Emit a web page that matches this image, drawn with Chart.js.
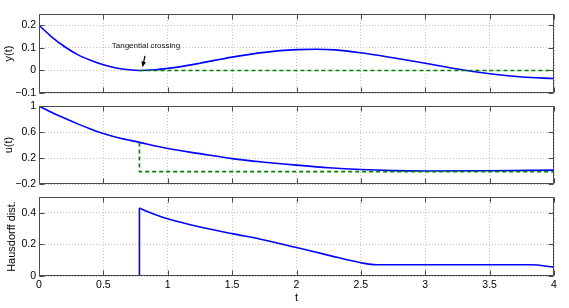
<!DOCTYPE html>
<html><head><meta charset="utf-8">
<script src="https://cdn.jsdelivr.net/npm/chart.js@4/dist/chart.umd.min.js"></script>
<style>
html,body{margin:0;padding:0;background:#fff;}
#wrap{position:relative;width:569px;height:308px;}
canvas{position:absolute;left:0;top:0;}
</style></head><body>
<div id="wrap">
<canvas id="c1" width="569" height="308"></canvas>
<canvas id="c2" width="569" height="308"></canvas>
<canvas id="c3" width="569" height="308"></canvas>
</div>
<script>
// ---- tick labels ----
const xTicks = [0, 0.5, 1, 1.5, 2, 2.5, 3, 3.5, 4];
const yTicks1 = [-0.1, 0, 0.1, 0.2];
const yTicks2 = [-0.2, 0.2, 0.6, 1];
const yTicks3 = [0, 0.2, 0.4];

// ---- panel 1: y(t) ----
const tY    = [0, 0.1, 0.2, 0.3, 0.4, 0.5, 0.6, 0.7, 0.78, 0.9, 1.0, 1.1, 1.25, 1.5, 1.75, 2.0, 2.15, 2.3, 2.5, 2.75, 3.0, 3.25, 3.5, 3.75, 4.0];
const yBlue = [0.2, 0.148, 0.105, 0.07, 0.045, 0.025, 0.011, 0.003, 0.0, 0.003, 0.009, 0.017, 0.032, 0.059, 0.08, 0.092, 0.094, 0.091, 0.078, 0.056, 0.032, 0.006, -0.015, -0.029, -0.036];
const tYref = [0.78, 4];
const yRef  = [0, 0];

// ---- panel 2: u(t) ----
const tU    = [0, 0.1, 0.2, 0.3, 0.4, 0.5, 0.6, 0.78, 1.0, 1.25, 1.5, 1.75, 2.0, 2.25, 2.5, 2.75, 3.0, 3.5, 4.0];
const uBlue = [1.0, 0.9, 0.81, 0.725, 0.648, 0.578, 0.52, 0.44, 0.345, 0.267, 0.19, 0.135, 0.09, 0.05, 0.022, 0.006, 0.0, 0.005, 0.013];
const tUref = [0.78, 0.78, 4];
const uRef  = [0.44, -0.01, -0.01];

// ---- panel 3: Hausdorff distance ----
const tH0   = [0, 0.78, 0.78];
const hZero = [0, 0, 0.43];
const tH    = [0.78, 0.85, 0.95, 1.1, 1.25, 1.5, 1.74, 2.0, 2.26, 2.5, 2.62, 3.82, 4.0];
const hDist = [0.43, 0.405, 0.375, 0.34, 0.31, 0.268, 0.23, 0.18, 0.129, 0.084, 0.071, 0.071, 0.056];

// ---- annotation ----
const noteText = 'Tangential crossing';
const noteAt   = [0.831, 0.109];
const arrowFrom = [0.823, 0.064];
const arrowTo   = [0.804, 0.014];

const FONT = "'Liberation Sans', Arial, Helvetica, sans-serif";
const BLUE = '#0000ff', GREEN = '#008000';
const fmt = v => (v < 0 ? '\u2212' : '') + String(Math.abs(Math.round(v * 1000) / 1000));
const pts = (xs, ys) => xs.map((x, i) => ({x, y: ys[i]}));

const framePlugin = {
  id: 'frame',
  afterDraw(chart) {
    const {ctx, chartArea: a, scales: {x, y}} = chart;
    const L = Math.round(a.left) + 0.5, R = Math.round(a.right) - 0.5;
    const T = Math.round(a.top) + 0.5, B = Math.round(a.bottom) - 0.5;
    ctx.save();
    ctx.strokeStyle = '#4a4a4a';
    ctx.lineWidth = 1;
    ctx.beginPath();
    ctx.rect(L, T, R - L, B - T);
    x.ticks.forEach(t => {
      const p = Math.round(x.getPixelForValue(t.value)) + 0.5;
      ctx.moveTo(p, B); ctx.lineTo(p, B - 5);
      ctx.moveTo(p, T); ctx.lineTo(p, T + 5);
    });
    y.ticks.forEach(t => {
      const p = Math.round(y.getPixelForValue(t.value)) + 0.5;
      ctx.moveTo(L, p); ctx.lineTo(L + 5, p);
      ctx.moveTo(R, p); ctx.lineTo(R - 5, p);
    });
    ctx.stroke();
    ctx.restore();
  }
};

const notePlugin = {
  id: 'note',
  afterDraw(chart) {
    if (chart.canvas.id !== 'c1') return;
    const {ctx, scales: {x, y}} = chart;
    ctx.save();
    ctx.fillStyle = '#111';
    ctx.font = '8px ' + FONT;
    ctx.textAlign = 'center';
    ctx.textBaseline = 'middle';
    ctx.fillText(noteText, x.getPixelForValue(noteAt[0]), y.getPixelForValue(noteAt[1]));
    const x1 = x.getPixelForValue(arrowFrom[0]), y1 = y.getPixelForValue(arrowFrom[1]);
    const x2 = x.getPixelForValue(arrowTo[0]), y2 = y.getPixelForValue(arrowTo[1]);
    const ang = Math.atan2(y2 - y1, x2 - x1);
    ctx.strokeStyle = '#000'; ctx.lineWidth = 1.2;
    ctx.beginPath(); ctx.moveTo(x1, y1);
    ctx.lineTo(x2 - 5 * Math.cos(ang), y2 - 5 * Math.sin(ang)); ctx.stroke();
    ctx.beginPath();
    ctx.moveTo(x2, y2);
    ctx.lineTo(x2 - 6 * Math.cos(ang - 0.4), y2 - 6 * Math.sin(ang - 0.4));
    ctx.lineTo(x2 - 6 * Math.cos(ang + 0.4), y2 - 6 * Math.sin(ang + 0.4));
    ctx.closePath(); ctx.fillStyle = '#000'; ctx.fill();
    ctx.restore();
  }
};

function makeChart(id, datasets, yMin, yMax, yTicks, yTitle, top, bottom, showX, titlePad) {
  return new Chart(document.getElementById(id), {
    type: 'line',
    data: {datasets},
    plugins: [framePlugin, notePlugin],
    options: {
      responsive: false,
      animation: false,
      events: [],
      layout: {padding: {left: 0, right: 15, top: top, bottom: showX ? 0 : 308 - bottom}},
      plugins: {legend: {display: false}, tooltip: {enabled: false}},
      elements: {point: {radius: 0}},
      scales: {
        x: {
          type: 'linear', min: 0, max: 4,
          afterBuildTicks: s => { s.ticks = xTicks.map(v => ({value: v})); },
          afterFit: s => { s.height = showX ? 308 - bottom : 0; },
          grid: {color: '#c4c4c4', lineWidth: 1, drawTicks: false},
          border: {display: false, dash: [1, 2]},
          ticks: {display: showX, padding: 3, color: '#000', font: {family: FONT, size: 10.5},
                  maxRotation: 0, callback: v => fmt(v)},
          title: {display: showX, text: 't', color: '#000', font: {family: FONT, size: 11},
                  padding: {top: 0, bottom: 3}}
        },
        y: {
          type: 'linear', min: yMin, max: yMax,
          afterBuildTicks: s => { s.ticks = yTicks.map(v => ({value: v})); },
          afterFit: s => { s.width = 39; },
          grid: {color: '#c4c4c4', lineWidth: 1, drawTicks: false},
          border: {display: false, dash: [1, 2]},
          ticks: {padding: 3, color: '#000', font: {family: FONT, size: 10.5}, callback: v => fmt(v)},
          title: {display: true, text: yTitle, color: '#000', font: {family: FONT, size: 11},
                  padding: {top: titlePad, bottom: 0}}
        }
      }
    }
  });
}

const solid = (data, smooth) => ({data, borderColor: BLUE, borderWidth: 1.6, fill: false,
  cubicInterpolationMode: smooth ? 'monotone' : 'default', tension: 0});
const dashed = data => ({data, borderColor: GREEN, borderWidth: 1.6, borderDash: [4, 3], fill: false, tension: 0});

makeChart('c1', [dashed(pts(tYref, yRef)), solid(pts(tY, yBlue), true)],
  -0.1, 0.25, yTicks1, 'y(t)', 14, 93, false, 2);
makeChart('c2', [dashed(pts(tUref, uRef)), solid(pts(tU, uBlue), true)],
  -0.2, 1, yTicks2, 'u(t)', 106, 184, false, 2);
makeChart('c3', [solid(pts(tH0, hZero), false), solid(pts(tH, hDist), true)],
  0, 0.5, yTicks3, 'Hausdorff dist.', 197, 276, true, 5);
</script>
</body></html>
